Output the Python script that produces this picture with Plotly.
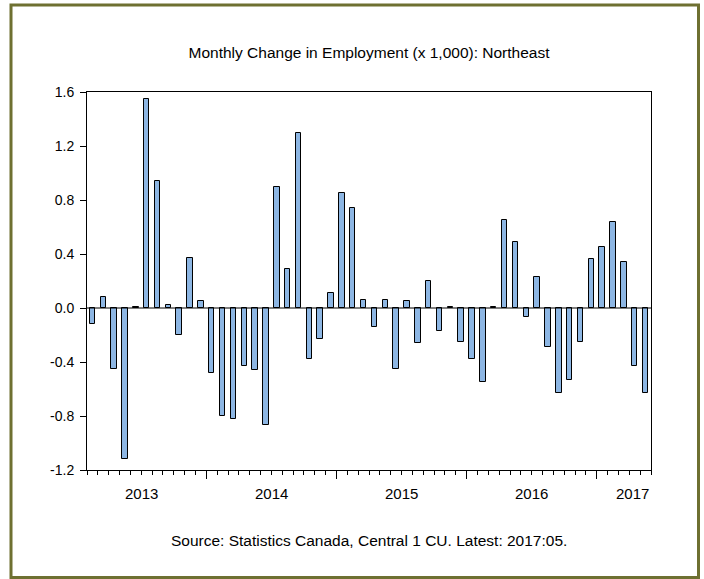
import pandas as pd
import plotly.graph_objects as go

# Monthly change in employment (thousands), Northeast region, 2013:02 - 2017:05
months = pd.date_range("2013-02-01", "2017-05-01", freq="MS")
changes = [
    -0.12, 0.08, -0.45, -1.12, 0.01, 1.55, 0.94, 0.02, -0.20, 0.37, 0.05,      # 2013
    -0.48, -0.80, -0.82, -0.43, -0.46, -0.87, 0.90, 0.29, 1.30, -0.38, -0.23, 0.11,  # 2014
    0.85, 0.74, 0.06, -0.14, 0.06, -0.45, 0.05, -0.26, 0.20, -0.17, 0.005, -0.25,    # 2015
    -0.38, -0.55, 0.01, 0.65, 0.49, -0.07, 0.23, -0.29, -0.63, -0.53, -0.25, 0.36,   # 2016
    0.45, 0.64, 0.34, -0.43, -0.63,                                                  # 2017
]
y_tick_values = [-1.2, -0.8, -0.4, 0.0, 0.4, 0.8, 1.2, 1.6]
year_labels = ["2013", "2014", "2015", "2016", "2017"]

title_text = "Monthly Change in Employment (x 1,000): Northeast"
source_text = "Source: Statistics Canada, Central 1 CU. Latest: 2017:05."

FONT = "Liberation Sans, Arial, sans-serif"
BAR_FILL = "#8DB6E3"
FRAME = "#6E7031"

x_pos = list(range(len(months)))
x_lo, x_hi = -0.5, len(months) - 0.5

# Year boundaries (major ticks) and year label centres on the month index scale
first = months[0]
def month_index(year, month):
    return (year - first.year) * 12 + (month - first.month)

year_starts = [month_index(int(y), 1) for y in year_labels]
major_ticks = [s - 0.5 for s in year_starts if x_lo < s - 0.5 < x_hi]
label_pos = [min(s + 5.5, x_hi - 1.7) for s in year_starts]

fig = go.Figure()
fig.add_trace(go.Bar(
    x=x_pos,
    y=changes,
    width=0.5,
    marker=dict(color=BAR_FILL, line=dict(color="black", width=1)),
    hovertext=[m.strftime("%Y:%m") for m in months],
    hoverinfo="text+y",
    showlegend=False,
))

# zero reference line
fig.add_shape(type="line", xref="x", yref="y", x0=x_lo, x1=x_hi, y0=0, y1=0,
              line=dict(color="black", width=1), layer="above")

# outer frame around the whole graphic
L, R, T, B = 87, 53, 92, 109
W, H = 704, 579
pw, ph = W - L - R, H - T - B
def px_x(p):
    return (p - L) / pw
def px_y(p):
    return (H - B - p) / ph

fig.add_shape(type="rect", xref="paper", yref="paper",
              x0=px_x(11), x1=px_x(698.5), y0=px_y(577.5), y1=px_y(5),
              line=dict(color=FRAME, width=3), fillcolor="rgba(0,0,0,0)")

for pos, lab in zip(label_pos, year_labels):
    fig.add_annotation(x=pos, xref="x", y=px_y(493), yref="paper", text=lab,
                       showarrow=False, font=dict(family=FONT, size=15, color="black"),
                       xanchor="center", yanchor="middle")

fig.add_annotation(x=0.5, xref="paper", y=px_y(540), yref="paper", text=source_text,
                   showarrow=False, font=dict(family=FONT, size=15.5, color="black"),
                   xanchor="center", yanchor="middle")

fig.update_layout(
    width=W, height=H, autosize=False,
    margin=dict(l=L, r=R, t=T, b=B, pad=0),
    paper_bgcolor="white", plot_bgcolor="white",
    title=dict(text=title_text, x=0.5, xanchor="center", xref="paper",
               y=1 - 53 / H, yanchor="middle",
               font=dict(family=FONT, size=15.5, color="black")),
    bargap=0,
    font=dict(family=FONT, size=14, color="black"),
)

fig.update_xaxes(
    range=[x_lo, x_hi], showgrid=False, zeroline=False,
    showline=True, linecolor="black", linewidth=1, mirror=True,
    tickmode="array", tickvals=major_ticks, ticktext=["" for _ in major_ticks],
    ticks="outside", ticklen=8, tickwidth=1, tickcolor="black",
    minor=dict(tick0=-0.5, dtick=1, ticks="outside", ticklen=4, tickwidth=1,
               tickcolor="black", showgrid=False),
    fixedrange=True,
)
fig.update_yaxes(
    range=[-1.2, 1.6], showgrid=False, zeroline=False,
    showline=True, linecolor="black", linewidth=1, mirror=True,
    tickmode="array", tickvals=y_tick_values,
    ticktext=[f"{v:.1f}" for v in y_tick_values],
    ticks="outside", ticklen=6, tickwidth=1, tickcolor="black",
    ticklabelstandoff=3,
    tickfont=dict(family=FONT, size=14, color="black"),
    fixedrange=True,
)

fig.write_html("out.html")
